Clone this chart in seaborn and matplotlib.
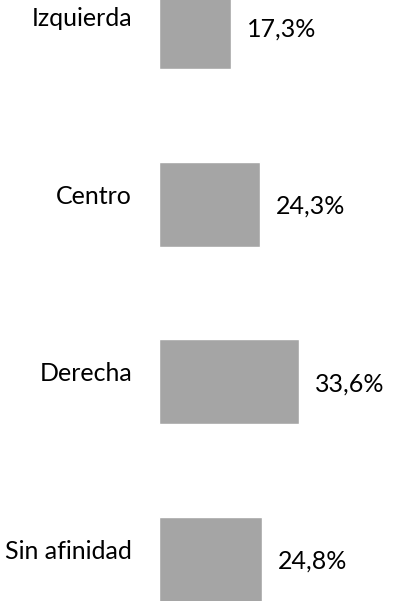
import pandas as pd
import matplotlib.pyplot as plt
import seaborn as sns

# ------------------------------
# Data
# ------------------------------
categorias = ["Izquierda", "Centro", "Derecha", "Sin afinidad"]
valores = [17.3, 24.3, 33.6, 24.8]
etiquetas = ["17,3%", "24,3%", "33,6%", "24,8%"]

df = pd.DataFrame({"categoria": categorias, "valor": valores})

sns.set_theme(style="white")
plt.rcParams["font.family"] = ["Lato", "DejaVu Sans"]

fig = plt.figure(figsize=(4.05, 6.01), dpi=100)
ax = fig.add_axes([159 / 405, 0, 246 / 405, 1])

sns.barplot(data=df, y="categoria", x="valor", orient="h", color="#A5A5A5",
            saturation=1, width=0.479, ax=ax)

ax.set_xlim(0, 246 / 4.16)
ax.set_ylim(3.236, -0.150)

# value labels to the right of the bars
for i, (v, lab) in enumerate(zip(valores, etiquetas)):
    ax.annotate(lab, xy=(v, i), xytext=(16, -2), textcoords="offset pixels",
                ha="left", va="center", fontsize=18, color="black")

# category labels on the left, a bit above bar centre
for i, cat in enumerate(categorias):
    ax.annotate(cat, xy=(0, i), xytext=(-27, 8), textcoords="offset pixels",
                ha="right", va="center", fontsize=18, color="black",
                annotation_clip=False)

ax.set_xticks([])
ax.set_yticks([])
ax.set_xlabel("")
ax.set_ylabel("")
sns.despine(ax=ax, left=True, bottom=True)

fig.savefig("out.png", dpi=100)
